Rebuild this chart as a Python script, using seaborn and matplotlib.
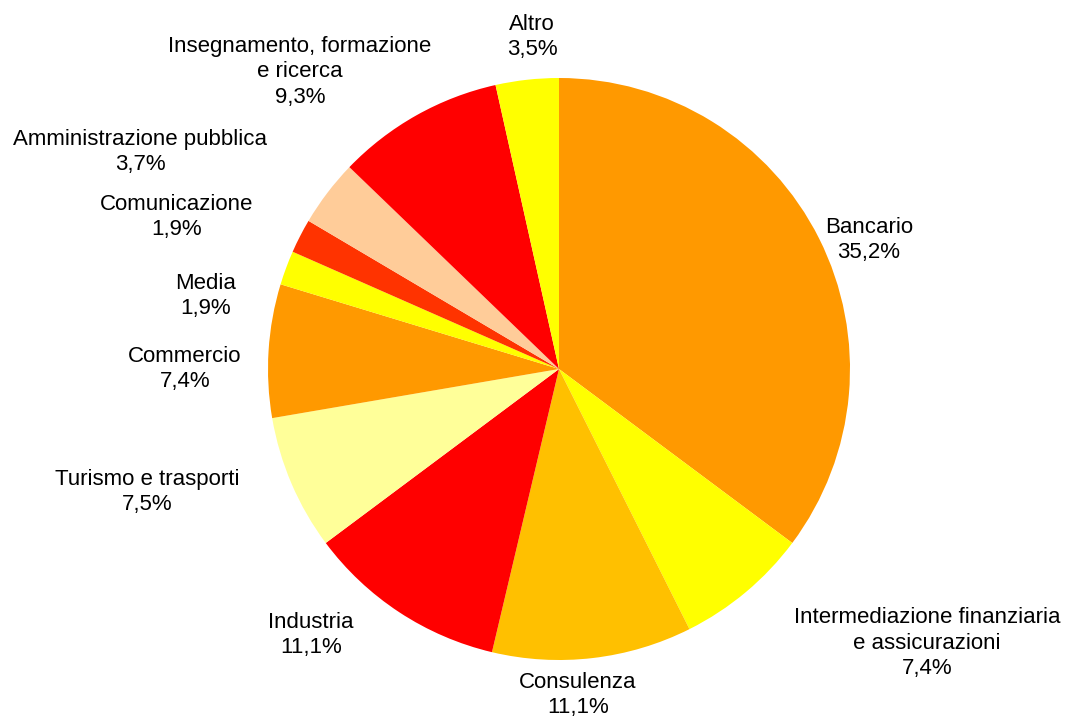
import matplotlib
matplotlib.use("Agg")
import matplotlib.pyplot as plt
import seaborn as sns

# Sector shares (%), clockwise from 12 o'clock
sectors = ["Bancario", "Intermediazione finanziaria\ne assicurazioni", "Consulenza",
           "Industria", "Turismo e trasporti", "Commercio", "Media", "Comunicazione",
           "Amministrazione pubblica", "Insegnamento, formazione\ne ricerca", "Altro"]
shares = [35.2, 7.4, 11.1, 11.1, 7.5, 7.4, 1.9, 1.9, 3.7, 9.3, 3.5]
colors = ["#FF9900", "#FFFF00", "#FFC000", "#FF0000", "#FFFF99", "#FF9900",
          "#FFFF00", "#FF3300", "#FFCC99", "#FF0000", "#FFFF00"]

# label block centres, in pie radius units
label_pos = [(1.065, 0.443), (1.265, -0.942), (0.065, -1.120), (-0.852, -0.914),
             (-1.416, -0.423), (-1.285, 0.0), (-1.216, 0.251), (-1.313, 0.522),
             (-1.440, 0.746), (-0.890, 1.021), (-0.093, 1.141)]

sns.set_theme(style="white")
plt.rcParams["font.family"] = ["Liberation Sans", "DejaVu Sans"]

fig = plt.figure(figsize=(10.77, 7.21), dpi=100)
ax = fig.add_axes([0, 0, 1, 1])
ax.pie(shares, colors=colors, startangle=90, counterclock=False, radius=1,
       wedgeprops={"linewidth": 0}, frame=True)

for name, val, (x, y) in zip(sectors, shares, label_pos):
    txt = name + "\n" + f"{val:.1f}%".replace(".", ",")
    ax.text(x, y, txt, ha="center", va="center", fontsize=16,
            color="black", linespacing=1.27, multialignment="center")

r_px = 291
ax.set_xlim(-559 / r_px, (1077 - 559) / r_px)
ax.set_ylim(-(721 - 369) / r_px, 369 / r_px)
ax.set_aspect("equal")
ax.axis("off")

fig.savefig("out.png", dpi=100)
